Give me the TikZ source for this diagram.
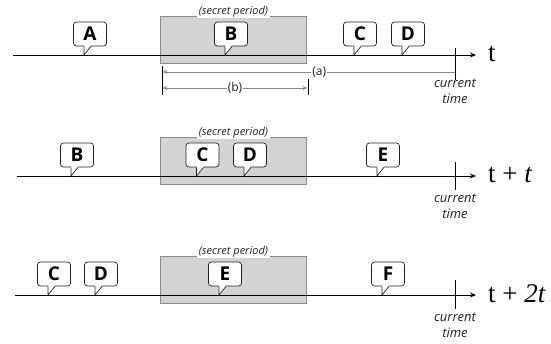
\documentclass[tikz,border=0pt]{standalone}
\usepackage{fontspec}
\setmainfont{Liberation Serif}
\setsansfont{Open Sans}
\usetikzlibrary{calc,arrows.meta}
\definecolor{boxfill}{HTML}{D3D3D3}
\definecolor{boxline}{HTML}{8C8C8C}
\definecolor{dimline}{HTML}{8A8A8A}
\definecolor{ink}{HTML}{222222}

\tikzset{
  timeline/.style={line width=0.9pt, -{Stealth[length=6pt,width=5pt]}},
  secretbox/.style={draw=boxline, fill=boxfill, line width=0.8pt, minimum width=146pt,
    minimum height=47pt, inner sep=0pt, anchor=north west},
  secretlabel/.style={fill=white, inner sep=1.5pt, text=ink,
    font=\sffamily\itshape\fontsize{11}{11}\selectfont},
  bubble/.style={draw=ink, fill=white, rounded corners=3pt, line width=0.7pt,
    minimum width=33pt, minimum height=24pt, inner sep=0pt, text=black,
    font=\sffamily\bfseries\fontsize{19}{19}\selectfont},
  tail/.style={draw=ink, line width=0.7pt, line join=miter},
  nowtick/.style={line width=0.8pt},
  nowlabel/.style={align=center, text=ink, inner sep=0pt,
    font=\sffamily\itshape\fontsize{13}{16}\selectfont},
  axislabel/.style={anchor=base west, inner sep=0pt, font=\fontsize{27}{27}\selectfont},
  span/.style={draw=dimline, line width=0.8pt},
  spantip/.style={{Stealth[length=5pt,width=4pt]}-},
  spantipboth/.style={{Stealth[length=5pt,width=4pt]}-{Stealth[length=5pt,width=4pt]}},
  spantick/.style={line width=0.8pt},
  spanlabel/.style={fill=white, inner sep=1pt, text=ink,
    font=\sffamily\fontsize{12}{12}\selectfont},
}

% speech bubble: name, centre x, timeline y, letter
\newcommand\msg[4]{%
  \node[bubble] (#1) at (#2,#3-21) {#4};
  \coordinate (#1-tip) at (#2-6,#3);
  \fill[white] ($(#1.south)+(-6,-1.2)$) -- ($(#1.south)+(1,-1.2)$) --
    ($(#1.south)+(1,0)$) -- (#1-tip) -- ($(#1.south)+(-6,0)$) -- cycle;
  \draw[tail] ($(#1.south)+(-6,0)$) -- (#1-tip) -- ($(#1.south)+(1,0)$);
}

% shaded secret period: name, timeline y
\newcommand\secretspan[2]{%
  \node[secretbox] (#1) at (160,#2-39) {};
  \node[secretlabel] (#1-lbl) at ($(#1.north)+(0,-4.5)$) {(secret period)};
}

\begin{document}
\begin{tikzpicture}[x=1pt,y=-1pt]
\useasboundingbox (0,0) rectangle (551,344);

% ---------- row 1 ----------
\secretspan{sp1}{55}
\coordinate (t1s) at (13,55);
\coordinate (t1e) at (476,55);
\draw[timeline] (t1s) -- (t1e);
\node[axislabel] (t1lbl) at (488,62) {t};
\coordinate (now1a) at (455,48);
\coordinate (now1b) at (455,80);
\draw[nowtick] (now1a) -- (now1b);
\node[nowlabel] (now1) at (455,91) {current\\time};
\msg{A1}{90}{55}{A}
\msg{B1}{231}{55}{B}
\msg{C1}{360}{55}{C}
\msg{D1}{408}{55}{D}

% spans (a) and (b)
\coordinate (lt1) at (162,66);
\coordinate (lt2) at (162,95);
\draw[spantick] (lt1) -- (lt2);
\coordinate (rt1) at (308,79);
\coordinate (rt2) at (308,95);
\draw[spantick] (rt1) -- (rt2);
\coordinate (aL) at (162.5,72);
\coordinate (aR) at (455,72);
\draw[span,spantip] (aL) -- node[spanlabel,pos=0.536] (alab) {(a)} (aR);
\coordinate (bL) at (162.5,88);
\coordinate (bR) at (307.5,88);
\draw[span,spantipboth] (bL) -- node[spanlabel] (blab) {(b)} (bR);

% ---------- row 2 ----------
\secretspan{sp2}{176}
\coordinate (t2s) at (17,176);
\coordinate (t2e) at (476,176);
\draw[timeline] (t2s) -- (t2e);
\node[axislabel] (t2lbl) at (488,183) {t + \textit{t}};
\coordinate (now2a) at (455,162);
\coordinate (now2b) at (455,190);
\draw[nowtick] (now2a) -- (now2b);
\node[nowlabel] (now2) at (455,206.5) {current\\time};
\msg{B2}{77}{176}{B}
\msg{C2}{202.5}{176}{C}
\msg{D2}{250}{176}{D}
\msg{E2}{383}{176}{E}

% ---------- row 3 ----------
\secretspan{sp3}{295}
\coordinate (t3s) at (15,295);
\coordinate (t3e) at (476,295);
\draw[timeline] (t3s) -- (t3e);
\node[axislabel] (t3lbl) at (488,302) {t + \textit{2t}};
\coordinate (now3a) at (455,280);
\coordinate (now3b) at (455,309);
\draw[nowtick] (now3a) -- (now3b);
\node[nowlabel] (now3) at (455,325.5) {current\\time};
\msg{C3}{54}{295}{C}
\msg{D3}{101}{295}{D}
\msg{E3}{225}{295}{E}
\msg{F3}{388}{295}{F}
\end{tikzpicture}
\end{document}
